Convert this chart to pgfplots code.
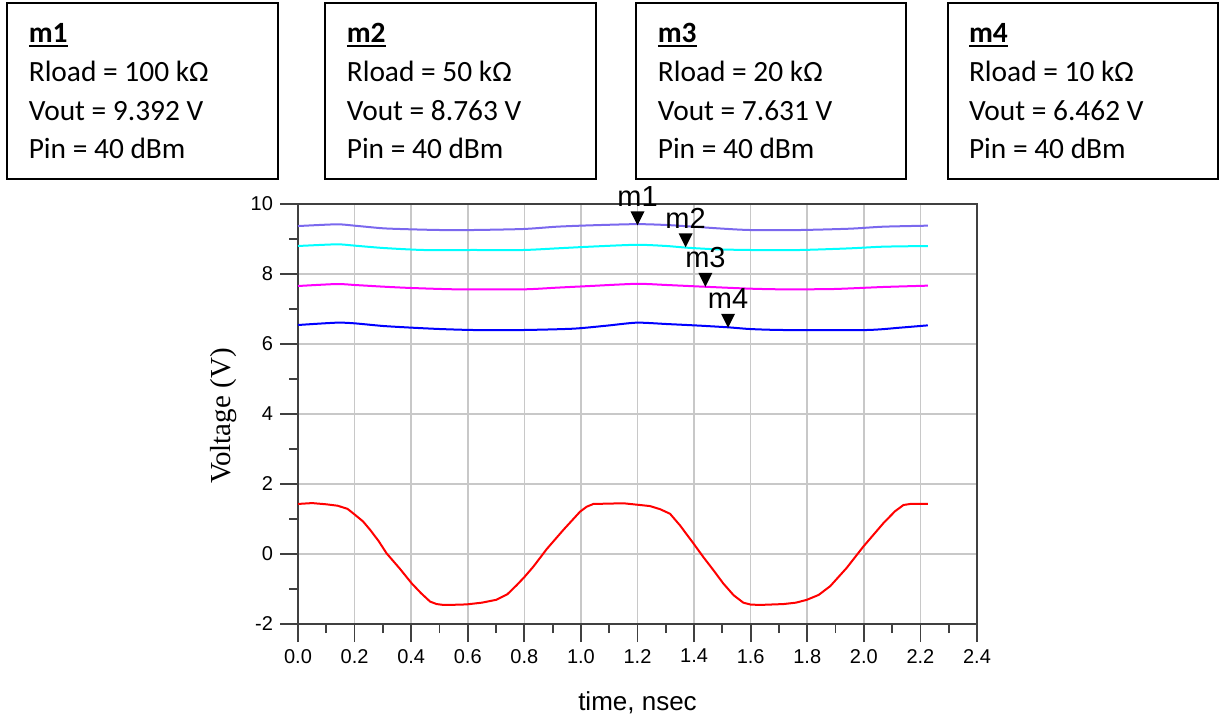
\documentclass[border=0pt]{standalone}
\usepackage{pgfplots}
\pgfplotsset{compat=1.18}
\usepackage{pgfplotstable}
\usepackage{fontspec}
\setmainfont{Liberation Sans}
\newfontfamily\calibri{Carlito}
\newfontfamily\timesf{Liberation Serif}
\definecolor{axisgray}{RGB}{64,64,64}
\definecolor{gridgray}{RGB}{200,200,200}
\definecolor{vpurple}{RGB}{123,104,238}
\definecolor{vcyan}{RGB}{0,255,255}
\definecolor{vmag}{RGB}{255,0,255}
\definecolor{vblue}{RGB}{0,0,255}
\definecolor{vred}{RGB}{255,0,0}
\pgfdeclareplotmark{dtri}{%
  \pgfpathmoveto{\pgfpoint{0pt}{0pt}}%
  \pgfpathlineto{\pgfpoint{-3.5pt}{7pt}}%
  \pgfpathlineto{\pgfpoint{3.5pt}{7pt}}%
  \pgfpathclose\pgfusepathqfill}
\newcommand\ulbox[1]{\setbox0\hbox{#1}\rlap{\rule[-2.6pt]{\wd0}{1.3pt}}\box0}

\pgfplotstableread{
x y
0 1.43
0.05 1.455
0.10 1.42
0.14 1.38
0.175 1.29
0.20 1.13
0.23 0.93
0.255 0.69
0.285 0.37
0.313 0.02
0.36 -0.42
0.402 -0.84
0.435 -1.12
0.467 -1.36
0.49 -1.43
0.514 -1.455
0.555 -1.45
0.596 -1.44
0.65 -1.39
0.70 -1.31
0.74 -1.15
0.773 -0.89
0.80 -0.66
0.832 -0.36
0.879 0.14
0.938 0.69
0.997 1.21
1.02 1.35
1.044 1.43
1.10 1.44
1.150 1.45
1.209 1.40
1.244 1.37
1.28 1.28
1.315 1.15
1.35 0.82
1.397 0.31
1.432 -0.08
1.47 -0.48
1.503 -0.84
1.54 -1.18
1.574 -1.39
1.60 -1.445
1.633 -1.455
1.716 -1.43
1.76 -1.39
1.798 -1.31
1.84 -1.17
1.881 -0.92
1.91 -0.66
1.939 -0.40
1.998 0.21
2.069 0.88
2.11 1.22
2.140 1.40
2.164 1.43
2.226 1.43
}\redtab

\pgfplotstableread{
x y
0 9.37
0.137 9.42
0.201 9.38
0.302 9.305
0.402 9.276
0.502 9.257
0.62 9.257
0.797 9.286
0.915 9.352
1.032 9.39
1.197 9.425
1.303 9.40
1.397 9.352
1.503 9.295
1.598 9.257
1.775 9.257
1.951 9.295
2.069 9.352
2.226 9.381
}\purtab

\pgfplotstableread{
x y
0 8.80
0.137 8.848
0.201 8.81
0.302 8.743
0.443 8.686
0.62 8.686
0.797 8.686
0.915 8.733
1.032 8.781
1.197 8.835
1.303 8.80
1.374 8.752
1.48 8.705
1.598 8.686
1.775 8.686
1.951 8.733
2.069 8.781
2.226 8.80
}\cyantab

\pgfplotstableread{
x y
0 7.657
0.137 7.714
0.201 7.686
0.302 7.638
0.402 7.60
0.561 7.562
0.797 7.562
0.915 7.61
1.032 7.657
1.197 7.72
1.303 7.686
1.432 7.638
1.598 7.581
1.716 7.562
1.892 7.571
2.069 7.629
2.226 7.667
}\magtab

\pgfplotstableread{
x y
0 6.543
0.137 6.61
0.201 6.59
0.302 6.514
0.402 6.467
0.502 6.428
0.62 6.40
0.797 6.40
0.973 6.438
1.091 6.524
1.197 6.61
1.303 6.571
1.421 6.524
1.522 6.476
1.598 6.428
1.716 6.40
2.01 6.40
2.128 6.467
2.226 6.533
}\bluetab

\begin{document}
\begin{tikzpicture}
\useasboundingbox (0,0) rectangle (609.5pt,360pt);
% marker boxes
\begin{scope}[line width=1pt]
\draw (3.5pt,270.5pt) rectangle (139pt,358.5pt);
\draw (162.5pt,270.5pt) rectangle (298pt,358.5pt);
\draw (318pt,270.5pt) rectangle (453pt,358.5pt);
\draw (474pt,270.5pt) rectangle (608.8pt,358.5pt);
\end{scope}
\tikzset{boxtxt/.style={anchor=base west, inner sep=0pt, font=\calibri\fontsize{14.7}{17}\selectfont}}
\foreach \bx/\m/\r/\v in {14.2/m1/100/9.392, 173.2/m2/50/8.763, 328.7/m3/20/7.631, 484.3/m4/10/6.462}{
  \node[boxtxt] at (\bx pt,339pt) {\ulbox{\bfseries \m}};
  \node[boxtxt] at (\bx pt,319.25pt) {Rload = \r\ kΩ};
  \node[boxtxt] at (\bx pt,300pt) {Vout = \v\ V};
  \node[boxtxt] at (\bx pt,280.75pt) {Pin = 40 dBm};
}
\begin{axis}[
  at={(149pt,48pt)}, anchor=south west,
  scale only axis, width=339.5pt, height=210pt,
  xmin=0, xmax=2.4, ymin=-2, ymax=10,
  xtick={0,0.2,0.4,0.6,0.8,1.0,1.2,1.4,1.6,1.8,2.0,2.2,2.4},
  xticklabels={0.0,0.2,0.4,0.6,0.8,1.0,1.2,1.4,1.6,1.8,2.0,2.2,2.4},
  ytick={-2,0,2,4,6,8,10},
  yticklabels={-2,0,2,4,6,8,10},
  minor x tick num=1, minor y tick num=1,
  tick align=outside, xtick pos=bottom, ytick pos=left,
  major tick length=9pt, minor tick length=4.5pt,
  grid=major,
  major grid style={color=gridgray, line width=0.8pt},
  axis line style={color=axisgray, line width=0.9pt},
  tick style={color=axisgray, line width=0.9pt},
  tick label style={font=\fontsize{10}{12}\selectfont, text=black},
  xlabel={time, nsec},
  ylabel={Voltage (V)},
  xlabel style={font=\fontsize{13}{15}\selectfont, at={(axis description cs:0.5,-0.188)}, anchor=center},
  ylabel style={font=\timesf\fontsize{14.5}{17}\selectfont, at={(axis description cs:-0.11,0.495)}, anchor=center},
  clip=false,
  every axis plot/.append style={line width=1pt, line join=round},
]
\addplot[color=vpurple, smooth, tension=0.4] table[x=x,y=y] {\purtab};
\addplot[color=vcyan, smooth, tension=0.4] table[x=x,y=y] {\cyantab};
\addplot[color=vmag, smooth, tension=0.4] table[x=x,y=y] {\magtab};
\addplot[color=vblue, smooth, tension=0.4] table[x=x,y=y] {\bluetab};
\addplot[color=vred] table[x=x,y=y] {\redtab};
\addplot[only marks, mark=dtri, color=black,
  point meta=explicit symbolic, nodes near coords,
  every node near coord/.style={anchor=base, inner sep=0pt, yshift=9.5pt, font=\fontsize{14.5}{16}\selectfont, text=black}]
  coordinates {(1.2,9.392) [m1] (1.37,8.763) [m2] (1.44,7.631) [m3] (1.52,6.462) [m4]};
\end{axis}
\end{tikzpicture}
\end{document}
